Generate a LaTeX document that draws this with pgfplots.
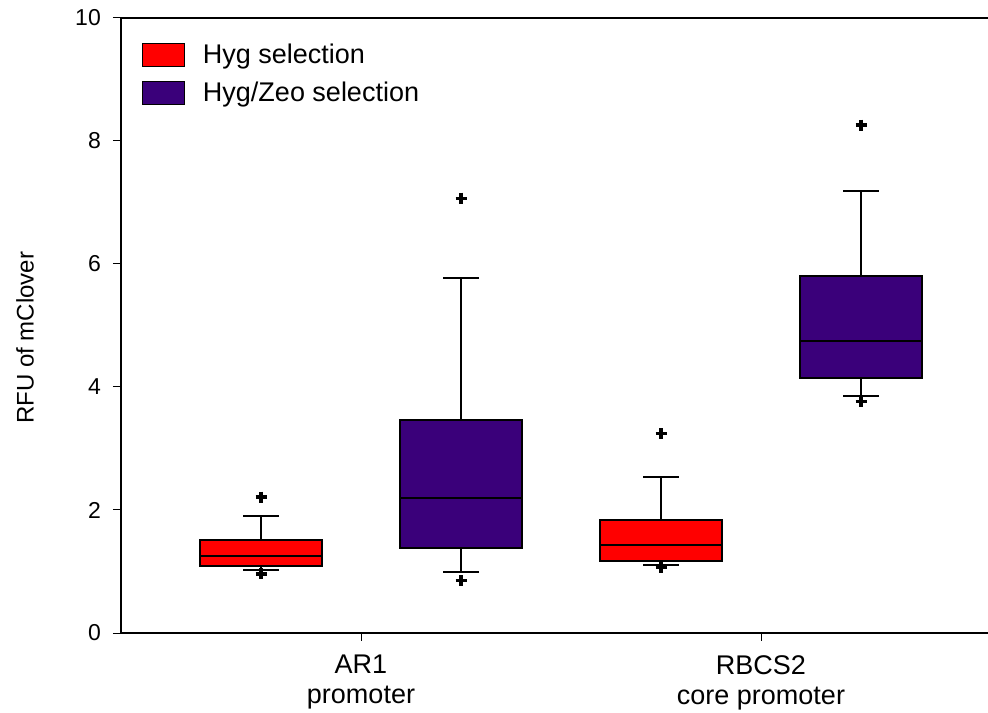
\documentclass[border=0pt]{standalone}
\usepackage{fontspec}
\setmainfont{Liberation Sans}
\usepackage{pgfplots}
\pgfplotsset{compat=1.18}
\usepgfplotslibrary{statistics}
\definecolor{hygred}{RGB}{255,0,0}
\definecolor{hygzeo}{RGB}{58,0,122}
\begin{document}
\begin{tikzpicture}
\begin{axis}[
  at={(0,0)}, anchor=south west,
  scale only axis, width=867bp, height=615bp,
  xmin=-0.6, xmax=1.5675, ymin=0, ymax=10,
  axis x line*=box, axis y line*=left,
  axis line style={-, line width=1.3bp, black},
  xtick={0,1},
  xticklabels={{AR1\\promoter},{RBCS2\\core promoter}},
  xtick pos=left, ytick pos=left,
  tick align=outside, major tick length=8bp,
  tick style={black, line width=1bp},
  minor tick num=0,
  ytick={0,2,4,6,8,10},
  xticklabel style={align=center, inner sep=0pt, anchor=north, yshift=-14bp,
    font=\fontsize{27bp}{30bp}\selectfont},
  yticklabel style={inner sep=0pt, xshift=-12bp, font=\fontsize{23bp}{26bp}\selectfont},
  /pgf/number format/assume math mode=true,
  ylabel={RFU of mClover},
  ylabel style={at={(axis description cs:-0.1107,0.48)}, anchor=center,
    font=\fontsize{24bp}{28bp}\selectfont},
  legend style={at={(axis description cs:0.0242,0.9593)}, anchor=north west,
    draw=none, fill=none, inner sep=0pt, outer sep=0pt,
    row sep=11bp, column sep=18bp,
    font=\fontsize{27bp}{32bp}\selectfont,
    nodes={inner sep=0pt, text height=20bp, text depth=6bp, anchor=base west}},
  legend cell align=left,
  boxplot/draw direction=y,
  boxplot/box extend=0.305,
  boxplot/whisker extend=0.09,
  boxplot/every median/.style={line width=2.2bp, draw=black},
]
\addlegendimage{legend image code/.code={\draw[fill=hygred, draw=black, line width=1bp] (0bp,-3bp) rectangle (42bp,20bp);}}
\addlegendentry{Hyg selection}
\addlegendimage{legend image code/.code={\draw[fill=hygzeo, draw=black, line width=1bp] (0bp,-3bp) rectangle (42bp,20bp);}}
\addlegendentry{Hyg/Zeo selection}

% AR1 promoter, Hyg
\addplot[forget plot, boxplot prepared={draw position=-0.25, median=1.25,
  upper quartile=1.51, lower quartile=1.09, upper whisker=1.90, lower whisker=1.02},
  fill=hygred, draw=black, line width=1.6bp] coordinates {};
% AR1 promoter, Hyg/Zeo
\addplot[forget plot, boxplot prepared={draw position=0.25, median=2.20,
  upper quartile=3.46, lower quartile=1.38, upper whisker=5.77, lower whisker=0.99},
  fill=hygzeo, draw=black, line width=1.6bp] coordinates {};
% RBCS2 core promoter, Hyg
\addplot[forget plot, boxplot prepared={draw position=0.75, median=1.43,
  upper quartile=1.84, lower quartile=1.17, upper whisker=2.54, lower whisker=1.11},
  fill=hygred, draw=black, line width=1.6bp] coordinates {};
% RBCS2 core promoter, Hyg/Zeo
\addplot[forget plot, boxplot prepared={draw position=1.25, median=4.75,
  upper quartile=5.80, lower quartile=4.15, upper whisker=7.19, lower whisker=3.85},
  fill=hygzeo, draw=black, line width=1.6bp] coordinates {};
% outliers
\addplot[forget plot, only marks, mark=+, mark size=5.5bp,
  mark options={black, line width=3.2bp}]
  coordinates {(-0.25,2.21) (-0.25,0.96) (0.25,7.07) (0.25,0.85)
               (0.75,3.24) (0.75,1.06) (1.25,8.26) (1.25,3.76)};
\end{axis}
\pgfresetboundingbox
\useasboundingbox (-121bp,-80bp) rectangle (867bp,633bp);
\end{tikzpicture}
\end{document}
